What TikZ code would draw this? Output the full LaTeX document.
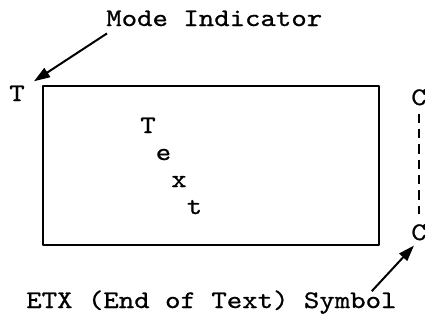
\documentclass[tikz,border=0pt]{standalone}
\usepackage{fontspec}
\newfontfamily\typewriter{lmmono10-regular.otf}[FakeBold=0.8, FakeStretch=1.16]
\usetikzlibrary{arrows.meta}

\begin{document}
\begin{tikzpicture}[
    x=0.75pt, y=-0.75pt,
    line join=round,
    every node/.style={font=\typewriter\fontsize{19}{23}\selectfont, inner sep=0pt},
    pointer/.style={line width=1.5pt, -{Triangle[length=12pt,width=8pt]}},
]
\useasboundingbox (0,0) rectangle (425,325);

% 屏幕边框参数
\def\L{43}   % 左
\def\T{86}   % 上
\def\R{379}  % 右
\def\B{245}  % 下

% ---- 屏幕边框 ----
\draw[line width=1.5pt] (\L,\T) rectangle (\R,\B);

% ---- 阶梯文字 ----
\foreach \ch [count=\i from 0] in {T,e,x,t}
    \node[anchor=base] (txt\i) at ({148+15.5*\i}, {133+27*\i}) {\ch};

% ---- 模式指示 ----
\node[anchor=base] (modeT) at (17,101) {T};
\node[anchor=base west] (mode) at (106,26) {Mode Indicator};
\draw[pointer] ([shift={(1,7)}]mode.south west) -- ([shift={(9,-4)}]modeT.north east);

% ---- ETX 符号 ----
\node[anchor=base] (ctop) at (419,105) {C};
\node[anchor=base] (cbot) at (419,240) {C};
\draw[line width=1.5pt, dash pattern=on 7pt off 4.5pt, shorten <=6pt, shorten >=7.5pt]
    (ctop.south) -- (cbot.north);

\node[anchor=base west] (etx) at (26,308) {ETX (End of Text) Symbol};
\draw[pointer] ([shift={(-25,1)}]etx.north east) -- ([shift={(-5,5)}]cbot.south);

\end{tikzpicture}
\end{document}
